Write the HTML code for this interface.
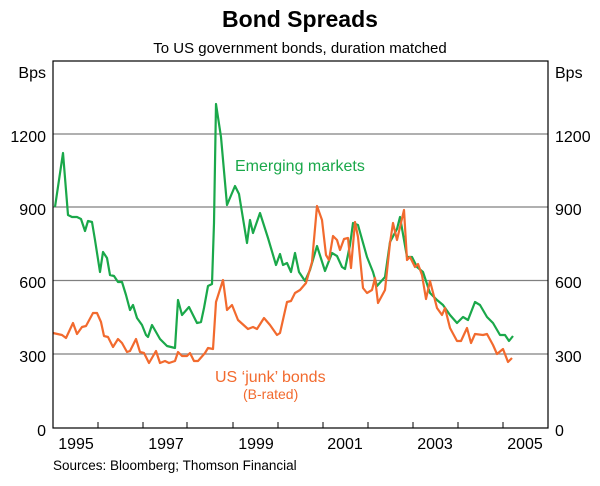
<!DOCTYPE html>
<html><head><meta charset="utf-8"><style>
html,body{margin:0;padding:0;background:#fff;}
svg{display:block;font-family:"Liberation Sans",Arial,sans-serif;}
</style></head><body>
<svg width="600" height="486" viewBox="0 0 600 486" xmlns="http://www.w3.org/2000/svg">
<text x="300" y="27" text-anchor="middle" font-size="23" font-weight="bold">Bond Spreads</text>
<text x="300" y="53" text-anchor="middle" font-size="15">To US government bonds, duration matched</text>
<text x="46" y="78" text-anchor="end" font-size="16">Bps</text>
<text x="555" y="78" font-size="16">Bps</text>
<g stroke="#808080" stroke-width="1.3">
<line x1="53" y1="134" x2="548" y2="134"/>
<line x1="53" y1="207" x2="548" y2="207"/>
<line x1="53" y1="280.5" x2="548" y2="280.5"/>
<line x1="53" y1="354" x2="548" y2="354"/>
</g>
<g font-size="16">
<text x="46" y="142" text-anchor="end">1200</text><text x="555" y="142">1200</text>
<text x="46" y="215" text-anchor="end">900</text><text x="555" y="215">900</text>
<text x="46" y="288" text-anchor="end">600</text><text x="555" y="288">600</text>
<text x="46" y="362" text-anchor="end">300</text><text x="555" y="362">300</text>
<text x="46" y="436" text-anchor="end">0</text><text x="555" y="436">0</text>
</g>
<g font-size="16" text-anchor="middle">
<text x="76" y="449">1995</text><text x="166" y="449">1997</text><text x="256" y="449">1999</text>
<text x="345" y="449">2001</text><text x="435" y="449">2003</text><text x="525" y="449">2005</text>
</g>
<text x="53" y="470" font-size="13.5">Sources: Bloomberg; Thomson Financial</text>
<g stroke="#000" stroke-width="1">
<line x1="98" y1="428" x2="98" y2="422"/><line x1="143" y1="428" x2="143" y2="422"/>
<line x1="187" y1="428" x2="187" y2="422"/><line x1="233" y1="428" x2="233" y2="422"/>
<line x1="278" y1="428" x2="278" y2="422"/><line x1="323" y1="428" x2="323" y2="422"/>
<line x1="368" y1="428" x2="368" y2="422"/><line x1="413" y1="428" x2="413" y2="422"/>
<line x1="458" y1="428" x2="458" y2="422"/><line x1="503" y1="428" x2="503" y2="422"/>
</g>
<polyline fill="none" stroke="#1aa84a" stroke-width="2.2" stroke-linejoin="round" points="55,207 63,153 68,215 72,217 77,217 81,219 85,231 88,221 92,222 95,240 100,272 103,252 107,258 110,275 114,276 118,282 122,282 126,295 130,310 133,305 137,318 142,325 146,335 148,337 152,325 156,332 160,339 167,346 175,348 178,300 182,315 189,307 197,323 201,322 204,308 208,286 212,284 214,223 216,104 221,137 227,205 235,186 239,194 247,243 250,220 253,233 260,213 268,238 276,265 280,254 283,265 287,263 291,272 295,253 299,272 305,281 310,270 317,246 325,271 332,253 337,256 342,267 345,269 350,245 353,223 358,225 367,257 373,272 377,286 385,277 390,242 397,229 400,217 407,257 412,257 417,267 423,272 430,293 437,300 443,305 450,315 457,323 463,317 468,320 475,302 480,305 487,317 493,323 500,335 505,335 509,341 513,336"/>
<polyline fill="none" stroke="#f26a2e" stroke-width="2.2" stroke-linejoin="round" points="53,333 62,335 66,338 73,323 77,334 82,327 86,326 93,313 97,313 101,322 104,336 108,337 113,347 118,339 122,343 127,352 130,351 136,339 140,352 144,353 149,363 156,351 160,363 165,361 169,363 175,361 178,352 182,356 187,356 190,353 194,361 198,361 205,353 208,348 213,349 216,302 223,280 227,310 232,305 238,320 248,329 253,327 257,329 264,318 270,325 277,335 280,333 287,302 291,301 295,293 300,290 306,283 312,262 317,206 322,220 326,255 329,260 333,236 337,240 340,250 344,239 348,238 351,268 355,222 358,237 363,288 367,293 372,290 375,278 378,303 385,290 390,243 393,223 397,240 404,210 407,260 410,257 415,267 418,264 422,275 426,299 430,281 437,308 442,315 445,308 450,328 457,341 461,341 467,328 471,343 475,334 483,335 487,334 493,345 497,354 503,349 508,362 512,358"/>
<rect x="53" y="61" width="495" height="367" fill="none" stroke="#000" stroke-width="1.2"/>
<text x="235" y="171" font-size="16" fill="#1aa84a">Emerging markets</text>
<text x="215" y="382" font-size="16" fill="#f26a2e">US ‘junk’ bonds</text>
<text x="243" y="399" font-size="14" fill="#f26a2e">(B-rated)</text>
</svg>
</body></html>
